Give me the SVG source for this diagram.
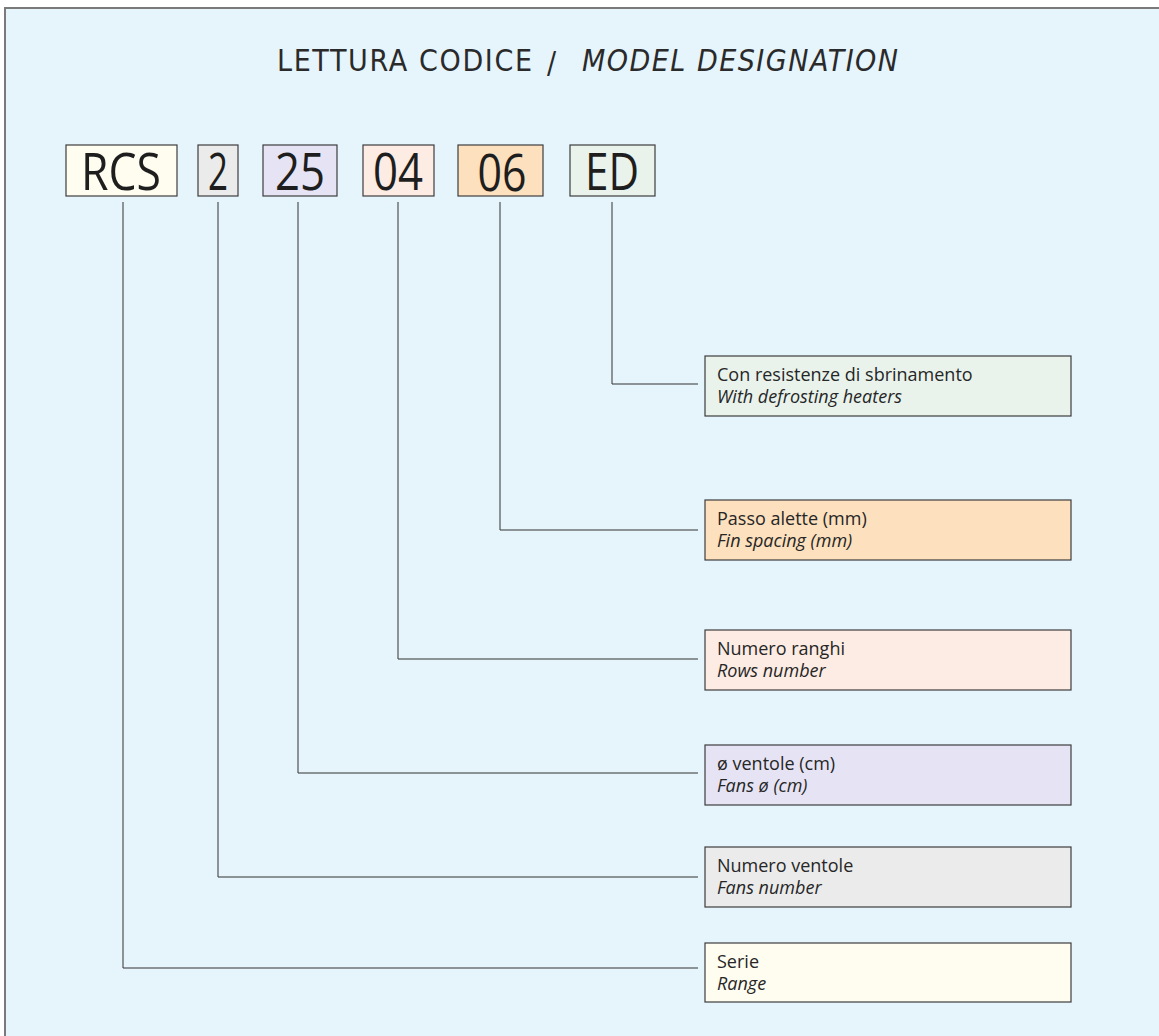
<svg xmlns="http://www.w3.org/2000/svg" width="1159" height="1036" viewBox="0 0 1159 1036">
<style>
.frame{fill:#e6f4fc;stroke:#7a7a7a;stroke-width:2}
.box{stroke:#3c3c3c;stroke-width:1.2}
.code{font-family:"Open Sans","DejaVu Sans",sans-serif;font-size:52px;fill:#1e1e1e;text-anchor:middle}
.lbl{font-family:"Open Sans","DejaVu Sans",sans-serif;font-size:18px;fill:#262626}
.it{font-style:italic}
.title{font-family:"DejaVu Sans Condensed","DejaVu Sans",sans-serif;font-stretch:condensed;font-size:30px;fill:#2a2a2a}
.conn{fill:none;stroke:#333;stroke-width:1}
.c1{fill:#fffdf0}.c2{fill:#ebebeb}.c3{fill:#e6e4f4}.c4{fill:#fdece4}.c5{fill:#fde0bd}.c6{fill:#e9f3ec}
</style>
<rect x="0" y="0" width="1159" height="1036" fill="#ffffff"/>
<rect class="frame" x="5" y="8" width="1170" height="1050"/>
<g id="title">
<text class="title" x="277" y="71" textLength="255" lengthAdjust="spacing">LETTURA CODICE</text>
<text class="title" x="547" y="73">/</text>
<text class="title it" x="582" y="71" textLength="316" lengthAdjust="spacing">MODEL DESIGNATION</text>
</g>
<g id="connectors">
<path class="conn" d="M123,202V968H698"/>
<path class="conn" d="M218,202V877H698"/>
<path class="conn" d="M298,202V773H698"/>
<path class="conn" d="M398,202V659H698"/>
<path class="conn" d="M500,202V530H698"/>
<path class="conn" d="M612,202V384H698"/>
</g>
<g id="code-RCS"><rect class="box c1" x="66" y="145" width="111" height="51"/><text class="code" x="121" y="190" textLength="80" lengthAdjust="spacingAndGlyphs">RCS</text></g>
<g id="code-2"><rect class="box c2" x="198" y="145" width="40" height="51"/><text class="code" x="218" y="190" textLength="20" lengthAdjust="spacingAndGlyphs">2</text></g>
<g id="code-25"><rect class="box c3" x="263" y="145" width="74" height="51"/><text class="code" x="300" y="190" textLength="50" lengthAdjust="spacingAndGlyphs">25</text></g>
<g id="code-04"><rect class="box c4" x="363" y="145" width="71" height="51"/><text class="code" x="398" y="190" textLength="50" lengthAdjust="spacingAndGlyphs">04</text></g>
<g id="code-06"><rect class="box c5" x="458" y="145" width="85" height="51"/><text class="code" x="502" y="191" textLength="49" lengthAdjust="spacingAndGlyphs">06</text></g>
<g id="code-ED"><rect class="box c6" x="570" y="145" width="85" height="51"/><text class="code" x="612" y="190" textLength="54" lengthAdjust="spacingAndGlyphs">ED</text></g>
<g id="desc-ED"><rect class="box c6" x="705" y="356" width="366" height="60"/><text class="lbl" x="717" y="381">Con resistenze di sbrinamento</text><text class="lbl it" x="717" y="403">With defrosting heaters</text></g>
<g id="desc-06"><rect class="box c5" x="705" y="500" width="366" height="60"/><text class="lbl" x="717" y="525">Passo alette (mm)</text><text class="lbl it" x="717" y="547">Fin spacing (mm)</text></g>
<g id="desc-04"><rect class="box c4" x="705" y="630" width="366" height="60"/><text class="lbl" x="717" y="655">Numero ranghi</text><text class="lbl it" x="717" y="677">Rows number</text></g>
<g id="desc-25"><rect class="box c3" x="705" y="745" width="366" height="60"/><text class="lbl" x="717" y="770">ø ventole (cm)</text><text class="lbl it" x="717" y="792">Fans ø (cm)</text></g>
<g id="desc-2"><rect class="box c2" x="705" y="847" width="366" height="60"/><text class="lbl" x="717" y="872">Numero ventole</text><text class="lbl it" x="717" y="894">Fans number</text></g>
<g id="desc-RCS"><rect class="box c1" x="705" y="943" width="366" height="59"/><text class="lbl" x="717" y="968">Serie</text><text class="lbl it" x="717" y="990">Range</text></g>
</svg>
